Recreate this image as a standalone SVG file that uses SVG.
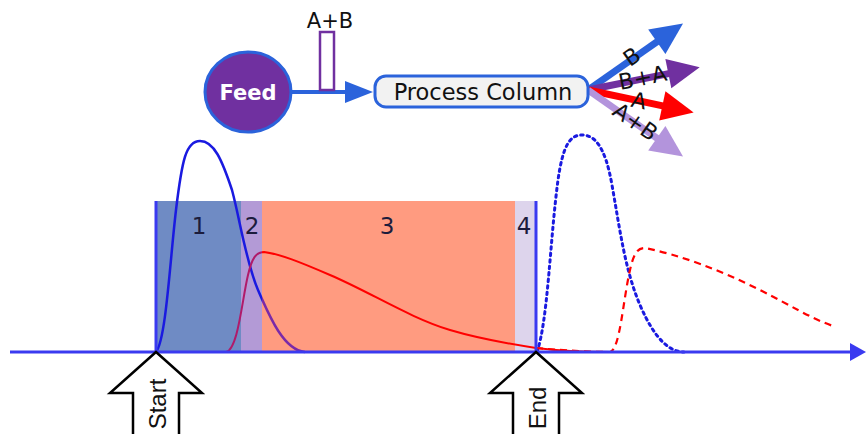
<svg xmlns="http://www.w3.org/2000/svg" width="866" height="434" viewBox="0 0 866 434">
<style>
.lbl{font-family:"DejaVu Sans",sans-serif;fill:#111;text-anchor:middle;dominant-baseline:central}
.num{font-family:"DejaVu Sans",sans-serif;font-size:23px;fill:#1c1c3c;text-anchor:middle}
.sig{font-family:"Liberation Sans",sans-serif;font-size:24px;fill:#111;text-anchor:middle;dominant-baseline:central}
.bigarrow{fill:#fff;stroke:#000;stroke-width:2.5;stroke-linejoin:miter}
.axis{stroke:#3a3af0;stroke-width:3;fill:none}
</style>
<defs>
<clipPath id="leftOf262"><rect x="0" y="0" width="262" height="434"/></clipPath>
<clipPath id="rightOf262"><rect x="262" y="0" width="604" height="434"/></clipPath>
<path id="blueCurve" d="M156,352 C166,340 170,260 176,210 C182,160 186,141 200,141 C214,141 222,160 232,190 C240,220 246,262 258,290 C270,318 284,350 305,352"/>
<path id="redCurve" d="M226,352 C238,350 242,300 248,275 C252,258 256,252 264,252 C280,254 300,262 330,275 C370,292 410,318 450,330 C480,339 510,344 536,348 C560,351 585,352 610,352"/>
</defs>

<g id="regions">
<rect x="156" y="201" width="85" height="151" fill="#6f8bc4"/>
<rect x="241" y="201" width="21" height="151" fill="#b39ad6"/>
<rect x="262" y="201" width="253" height="151" fill="#ff9b80"/>
<rect x="515" y="201" width="21" height="151" fill="#ddd4ec"/>
<text class="num" x="199" y="234">1</text>
<text class="num" x="252" y="234">2</text>
<text class="num" x="387" y="234">3</text>
<text class="num" x="524" y="234">4</text>
</g>

<g id="curves" fill="none">
<use href="#blueCurve" stroke="#1a1ae0" stroke-width="2.5" clip-path="url(#leftOf262)"/>
<use href="#blueCurve" stroke="#7a2aa8" stroke-width="2.5" clip-path="url(#rightOf262)"/>
<use href="#redCurve" stroke="#b01a6a" stroke-width="2" clip-path="url(#leftOf262)"/>
<use href="#redCurve" stroke="#ff0000" stroke-width="2" clip-path="url(#rightOf262)"/>
<path d="M537,352 C548,320 550,240 558,180 C563,145 570,135 582,135 C594,135 605,145 612,185 C620,230 625,270 640,305 C655,340 670,352 684,352" stroke="#1a1ae0" stroke-width="3" stroke-dasharray="2.5,4" stroke-linecap="round"/>
<path d="M536,348 C570,351 595,352 610,352 C620,350 623,300 630,270 C634,252 638,248 645,248 C680,255 720,270 760,290 C790,305 810,318 833,326" stroke="#ff0000" stroke-width="2.2" stroke-dasharray="7,5"/>
</g>

<g id="axis">
<line class="axis" x1="156" y1="201" x2="156" y2="352"/>
<line class="axis" x1="536" y1="201" x2="536" y2="352"/>
<line class="axis" x1="10" y1="352" x2="852" y2="352"/>
<polygon points="850,343 866,352 850,361" fill="#3a3af0"/>
</g>

<g id="start">
<polygon class="bigarrow" points="156,352 202,393 179,393 179,436 133,436 133,393 110,393"/>
<text class="sig" transform="translate(157,404) rotate(-90)">Start</text>
</g>
<g id="end">
<polygon class="bigarrow" points="536,352 582,393 559,393 559,436 513,436 513,393 490,393"/>
<text class="sig" transform="translate(537,408) rotate(-90)">End</text>
</g>

<g id="connectors">
<line x1="290" y1="92" x2="348" y2="92" stroke="#2b63db" stroke-width="4"/>
<polygon points="345,81 373,92 345,103" fill="#2b63db"/>
<g transform="translate(588,90) rotate(-35)">
<line x1="0" y1="0" x2="88" y2="0" stroke="#2b63db" stroke-width="7"/>
<polygon points="84,-15 116,0 84,15" fill="#2b63db"/>
<text class="lbl" font-size="22" x="55" y="-2">B</text>
</g>
<g transform="translate(588,90) rotate(-11.5)">
<line x1="0" y1="0" x2="86" y2="0" stroke="#7030a0" stroke-width="7"/>
<polygon points="82,-15 114,0 82,15" fill="#7030a0"/>
<text class="lbl" font-size="22" x="56" y="-1">B+A</text>
</g>
<g transform="translate(588,90) rotate(12)">
<line x1="0" y1="0" x2="80" y2="0" stroke="#ff0000" stroke-width="7"/>
<polygon points="76,-15 108,0 76,15" fill="#ff0000"/>
<text class="lbl" font-size="22" x="52" y="0">A</text>
</g>
<g transform="translate(588,90) rotate(35)">
<line x1="0" y1="0" x2="88" y2="0" stroke="#b394dc" stroke-width="7"/>
<polygon points="84,-15 116,0 84,15" fill="#b394dc"/>
<text class="lbl" font-size="22" x="57" y="-1">A+B</text>
</g>
</g>

<g id="sample">
<rect x="320" y="32" width="14" height="58" fill="#fff" stroke="#7030a0" stroke-width="2.5"/>
<text class="lbl" font-size="21" x="330" y="21">A+B</text>
</g>

<g id="feed">
<ellipse cx="248" cy="92" rx="43" ry="40" fill="#7030a0" stroke="#2b63db" stroke-width="3"/>
<text x="248" y="93" font-family="DejaVu Sans,sans-serif" font-weight="bold" font-size="21" fill="#fff" text-anchor="middle" dominant-baseline="central">Feed</text>
</g>

<g id="process-column">
<rect x="375" y="76" width="213" height="31" rx="11" fill="#f2f2f2" stroke="#2b63db" stroke-width="3"/>
<text class="lbl" font-size="22.5" x="483" y="92">Process Column</text>
</g>
</svg>
